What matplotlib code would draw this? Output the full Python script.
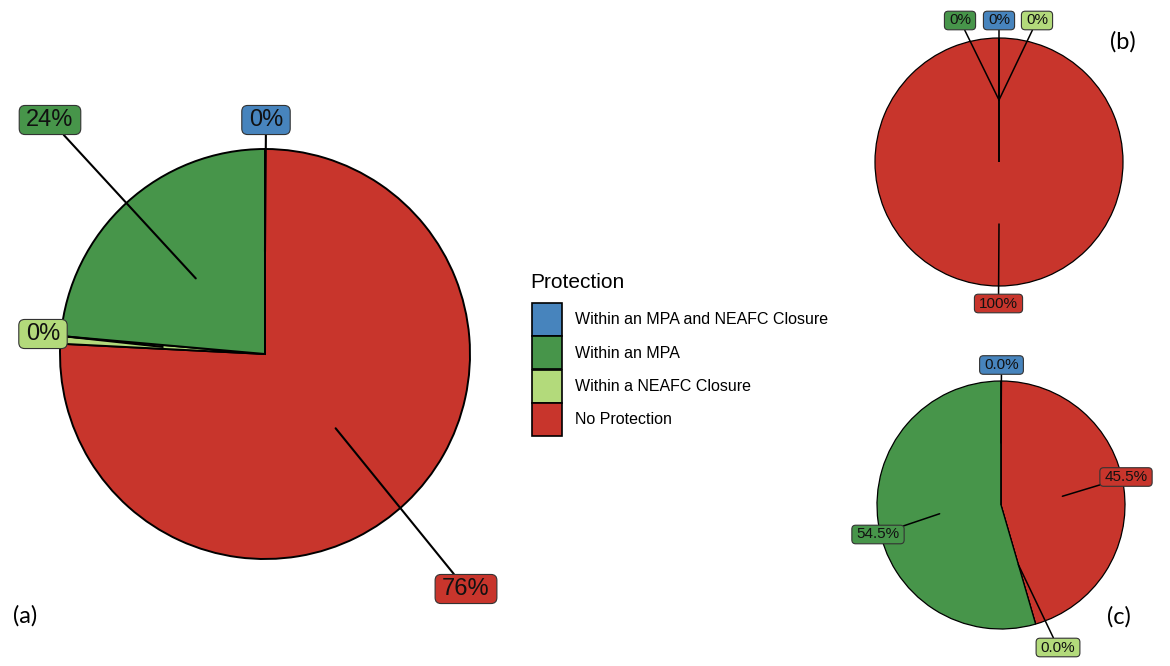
import numpy as np
import matplotlib
matplotlib.use("Agg")
import matplotlib.pyplot as plt
from matplotlib.patches import Patch, BoxStyle

plt.rcParams['font.family'] = ['Liberation Sans', 'DejaVu Sans']

# ---------------- data ----------------
categories = ["No Protection", "Within a NEAFC Closure", "Within an MPA",
              "Within an MPA and NEAFC Closure"]          # clockwise order from top
legend_order = ["Within an MPA and NEAFC Closure", "Within an MPA",
                "Within a NEAFC Closure", "No Protection"]
colors = {"Within an MPA and NEAFC Closure": "#4784BD",
          "Within an MPA": "#47954A",
          "Within a NEAFC Closure": "#B3DA7B",
          "No Protection": "#C8352C"}

a_values = [75.8, 0.6, 23.6, 0.0]
a_labels = ["76%", "0%", "24%", "0%"]
b_values = [100.0, 0.0, 0.0, 0.0]
b_labels = ["100%", "0%", "0%", "0%"]
c_values = [45.5, 0.0, 54.5, 0.0]
c_labels = ["45.5%", "0.0%", "54.5%", "0.0%"]

# ---------------- layout ----------------
W, H = 1170, 666
fig = plt.figure(figsize=(W / 100, H / 100), dpi=100)
ax = fig.add_axes([0, 0, 1, 1])


def P(x, y):
    return (x, H - y)


def make_box(padx, pady, rs):
    rnd = BoxStyle.Round(pad=0, rounding_size=rs)

    def box(x0, y0, width, height, mutation_size):
        px = padx * mutation_size
        py = pady * mutation_size
        return rnd(x0 - px, y0 - py, width + 2 * px, height + 2 * py, mutation_size)
    return box


pies = [
    dict(values=a_values, labels=a_labels, center=(265, 354), R=205, lw=1.4, seg=1.5, fs=17,
         pos=[(466, 589), (43, 334), (50, 120), (266, 120)]),
    dict(values=b_values, labels=b_labels, center=(999, 162), R=124, lw=0.9, seg=1.1, fs=11,
         pos=[(998.5, 303.5), (1037, 20.5), (960, 20.5), (999, 20.5)]),
    dict(values=c_values, labels=c_labels, center=(1001, 505), R=124, lw=0.9, seg=1.1, fs=11,
         pos=[(1126, 477), (1058, 647.5), (878, 534.5), (1001.5, 365)]),
]

for p in pies:
    vals = np.asarray(p["values"], dtype=float)
    cx, cy = P(*p["center"])
    R = p["R"]
    ax.pie(vals, colors=[colors[c] for c in categories], startangle=90,
           counterclock=False, center=(cx, cy), radius=R, normalize=True,
           wedgeprops=dict(edgecolor="black", linewidth=p["lw"]), frame=True)
    frac = vals / vals.sum()
    mid = np.cumsum(frac) - frac / 2
    theta = np.deg2rad(90 - 360 * mid)
    for k, cat in enumerate(categories):
        xy = (cx + 0.5 * R * np.cos(theta[k]), cy + 0.5 * R * np.sin(theta[k]))
        ax.annotate(p["labels"][k], xy=xy, xytext=P(*p["pos"][k]), textcoords="data",
                    ha="center", va="center", fontsize=p["fs"], color="#111111", zorder=5,
                    bbox=dict(boxstyle=make_box(0.3, 0.15, 0.25), fc=colors[cat],
                              ec="#333333", lw=0.8),
                    arrowprops=dict(arrowstyle="-", color="black", lw=p["seg"],
                                    shrinkA=0, shrinkB=0))

ax.set_xlim(0, W)
ax.set_ylim(0, H)
ax.set_aspect("equal")
ax.axis("off")

# panel letters
for txt, (x, y) in [("(a)", (25, 616)), ("(b)", (1123, 42)), ("(c)", (1119, 617))]:
    ax.text(*P(x, y), txt, ha="center", va="center", fontsize=17,
            family=["Lato", "DejaVu Sans"], color="black")

# legend
ax.text(*P(530, 283), "Protection", ha="left", va="center", fontsize=15, color="black")
handles = [Patch(facecolor=colors[c], edgecolor="black", linewidth=1.2) for c in legend_order]
leg = ax.legend(handles, legend_order, loc="upper left",
                bbox_to_anchor=(532 / W, 1 - 303 / H), bbox_transform=fig.transFigure,
                frameon=False, fontsize=11.5, handlelength=1.9,
                handleheight=2.8, labelspacing=0.02, handletextpad=0.8,
                borderpad=0, borderaxespad=0)

fig.savefig("out.png", dpi=100, facecolor="white")
